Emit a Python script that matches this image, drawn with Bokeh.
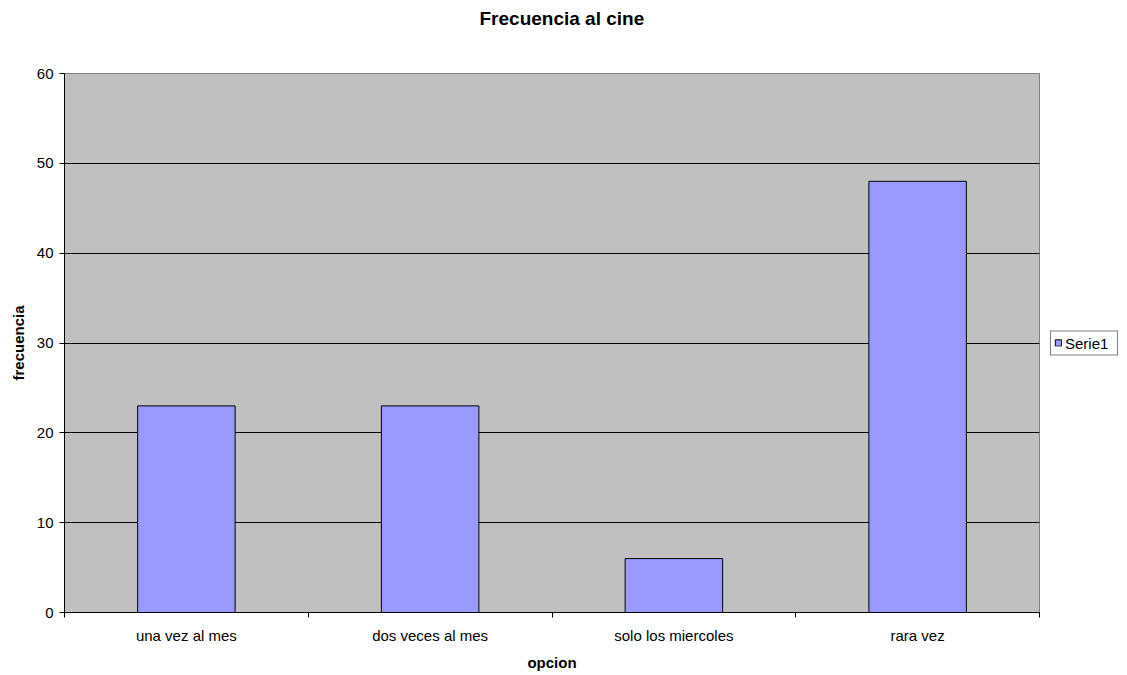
from bokeh.plotting import figure
from bokeh.models import Range1d, FixedTicker, Legend, LegendItem, Title, ColumnDataSource
from bokeh.embed import file_html
from bokeh.resources import INLINE

categories = ["una vez al mes", "dos veces al mes", "solo los miercoles", "rara vez"]
values = [23, 23, 6, 48]
series_name = "Serie1"
y_ticks = [0, 10, 20, 30, 40, 50, 60]

FONT = "Liberation Sans"
FS = "15px"

xs = [i + 0.5 for i in range(len(categories))]
src = ColumnDataSource(dict(x=xs, top=values, cat=categories))

p = figure(frame_width=975, frame_height=539, output_backend="svg", toolbar_location=None,
           x_range=Range1d(0, len(categories)), y_range=Range1d(0, 60),
           min_border_left=64, min_border_right=0, min_border_top=73, min_border_bottom=55,
           background_fill_color="#C0C0C0", border_fill_color="white",
           outline_line_color="#808080", outline_line_width=1)

# white spacer between the title and the plot area (innermost panel)
spacer = Title(text=".", text_font_size="1px", standoff=32, text_color="white")
p.add_layout(spacer, "above")
t = Title(text="Frecuencia al cine", align="left", offset=415, vertical_align="top",
          text_font=FONT, text_font_size="19px", text_font_style="bold",
          text_color="black", standoff=15)
p.add_layout(t, "above")

r = p.vbar(x="x", top="top", width=0.4, source=src, fill_color="#9999FF",
           line_color="black", line_width=1)

# axes
p.xaxis.ticker = FixedTicker(ticks=xs, minor_ticks=list(range(len(categories) + 1)))
p.xaxis.major_label_overrides = {x: c for x, c in zip(xs, categories)}
p.xaxis.major_tick_line_color = None
p.xaxis.minor_tick_out = 5
p.xaxis.minor_tick_in = 0
p.xaxis.minor_tick_line_color = "black"
p.xaxis.axis_label = "opcion"
p.xaxis.major_label_standoff = 8

p.yaxis.ticker = FixedTicker(ticks=y_ticks, minor_ticks=[])
p.yaxis.major_tick_out = 5
p.yaxis.major_tick_in = 0
p.yaxis.minor_tick_line_color = None
p.yaxis.axis_label = "frecuencia"
p.yaxis.major_label_standoff = 6

for ax in (p.xaxis, p.yaxis):
    ax.axis_line_color = "black"
    ax.major_label_text_font = FONT
    ax.major_label_text_font_size = FS
    ax.major_label_text_color = "black"
    ax.axis_label_text_font = FONT
    ax.axis_label_text_font_size = FS
    ax.axis_label_text_font_style = "bold"
    ax.axis_label_text_color = "black"
p.xaxis.axis_label_standoff = 7
p.yaxis.axis_label_standoff = 7

p.xgrid.grid_line_color = None
p.ygrid.grid_line_color = "black"
p.ygrid.grid_line_width = 1
p.ygrid.ticker = FixedTicker(ticks=y_ticks[:-1])

legend = Legend(items=[LegendItem(label=series_name, renderers=[r])], location="left",
                label_text_font=FONT, label_text_font_size=FS, label_text_color="black",
                glyph_width=8, glyph_height=8, label_standoff=3, padding=3, spacing=0,
                label_width=49, margin=11, border_line_color="black", border_line_width=1,
                background_fill_color="white", background_fill_alpha=1.0)
p.add_layout(legend, "right")

open("out.html", "w").write(file_html(p, INLINE))
